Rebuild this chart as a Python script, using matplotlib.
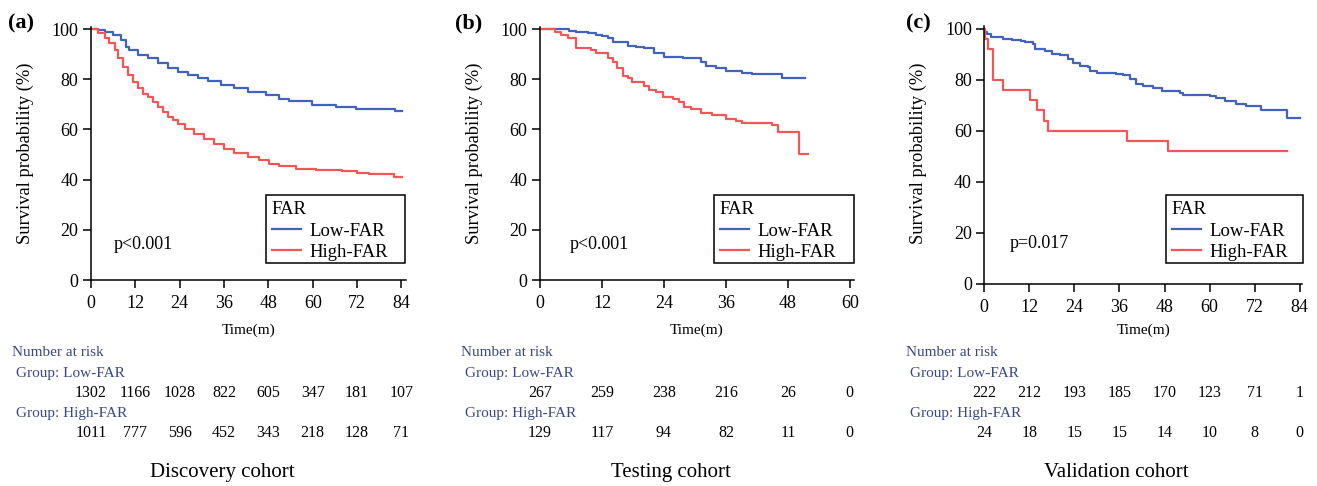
import matplotlib
matplotlib.use("Agg")
import matplotlib.pyplot as plt
from matplotlib.patches import Rectangle
from matplotlib.transforms import blended_transform_factory

plt.rcParams['font.family'] = ['Liberation Serif', 'DejaVu Serif']

W, H = 1317, 486
LOW_COL = '#4163bd'
HIGH_COL = '#f25757'
TXT_COL = '#3b4884'

# ---- Discovery cohort (a) ----
a_low_t = [0, 2.0, 3.7, 5.9, 8.2, 9.5, 10.4, 12.7, 15.4, 18.1, 20.8, 23.5, 26.2, 28.9, 31.6, 35.1, 38.8,
           42.4, 47.3, 50.8, 53.5, 59.9, 66.2, 71.6, 82.3, 84.1]
a_low_s = [100, 99.5, 98.9, 97.6, 95.6, 92.9, 91.6, 89.6, 88.3, 86.3, 84.3, 82.9, 81.6, 80.5, 79.2, 77.6, 76.3,
           74.9, 73.6, 72.3, 71.2, 69.6, 68.9, 68.0, 67.2, 67.2]
a_high_t = [0, 1.9, 3.7, 5.0, 6.4, 7.3, 8.6, 10.0, 11.4, 12.7, 14.1, 15.4, 16.8, 18.1, 19.5, 20.8, 22.2,
            23.5, 25.3, 28.0, 30.7, 33.4, 36.1, 38.8, 42.4, 45.5, 48.2, 50.9, 55.4, 60.8, 68.0, 72.1, 75.2,
            82.1, 84.1]
a_high_s = [100, 98.3, 96.3, 94.3, 91.6, 88.3, 84.9, 81.6, 78.9, 76.3, 74.3, 72.9, 70.9, 68.9, 66.9, 64.9,
            63.6, 62.3, 60.3, 58.3, 56.3, 54.3, 52.0, 50.7, 49.1, 47.9, 46.3, 45.3, 44.3, 43.9, 43.3, 42.7,
            42.1, 41.2, 41.2]
a_risk_t = [0, 12, 24, 36, 48, 60, 72, 84]
a_risk_low = [1302, 1166, 1028, 822, 605, 347, 181, 107]
a_risk_high = [1011, 777, 596, 452, 343, 218, 128, 71]

# ---- Testing cohort (b) ----
b_low_t = [0, 5.7, 7.0, 9.2, 10.8, 12.1, 13.1, 14.1, 17.0, 18.6, 20.2, 22.1, 24.0, 27.6, 31.1, 32.1, 34.0,
           36.0, 39.2, 41.1, 46.9, 51.3]
b_low_s = [100, 99.3, 98.9, 98.3, 97.6, 97.2, 96.5, 94.7, 93.3, 92.9, 92.3, 90.3, 88.9, 88.5, 86.9, 85.3,
           84.5, 83.2, 82.5, 82.0, 80.3, 80.3]
b_high_t = [0, 3.0, 4.1, 5.4, 7.0, 9.9, 10.8, 13.1, 14.1, 15.0, 16.0, 17.0, 17.9, 20.2, 21.2, 22.4, 23.9,
            25.7, 26.9, 27.9, 29.2, 31.1, 33.4, 36.0, 37.9, 39.2, 45.0, 46.0, 50.2, 51.8]
b_high_s = [100, 98.7, 97.6, 96.3, 92.5, 91.6, 90.3, 88.3, 86.7, 84.3, 81.3, 80.5, 78.9, 77.3, 75.6, 74.9,
            72.9, 72.3, 70.9, 68.9, 68.0, 66.7, 65.9, 64.3, 63.3, 62.5, 61.6, 58.9, 50.3, 50.3]
b_risk_t = [0, 12, 24, 36, 48, 60]
b_risk_low = [267, 259, 238, 216, 26, 0]
b_risk_high = [129, 117, 94, 82, 11, 0]

# ---- Validation cohort (c) ----
c_low_t = [0, 0.2, 0.8, 1.9, 5.1, 7.3, 9.9, 10.8, 13.0, 13.5, 16.1, 17.9, 20.1, 22.3, 23.7, 25.5, 27.7,
           28.1, 29.9, 35.2, 37.0, 38.8, 40.5, 42.3, 44.9, 47.2, 52.0, 52.9, 60.0, 61.8, 64.0, 67.1, 69.8,
           73.8, 80.6, 84.0]
c_low_s = [100, 98.7, 97.7, 96.6, 96.1, 95.7, 95.3, 94.8, 93.8, 92.1, 91.4, 90.1, 89.5, 87.9, 86.6, 85.3,
           84.9, 83.4, 82.5, 82.3, 81.7, 80.4, 78.2, 77.5, 76.6, 75.6, 74.9, 73.9, 73.6, 72.7, 71.7, 70.6,
           69.7, 68.1, 64.8, 64.8]
c_high_t = [0, 0.2, 1.1, 2.2, 5.1, 12.2, 14.1, 15.9, 17.0, 38.0, 49.0, 80.6]
c_high_s = [100, 96.0, 92.0, 80.0, 76.0, 72.0, 68.0, 64.0, 60.0, 56.0, 52.0, 52.0]
c_risk_t = [0, 12, 24, 36, 48, 60, 72, 84]
c_risk_low = [222, 212, 193, 185, 170, 123, 71, 1]
c_risk_high = [24, 18, 15, 15, 14, 10, 8, 0]

panels = [
    dict(tag='(a)', title='Discovery cohort', p='p<0.001',
         low=(a_low_t, a_low_s), high=(a_high_t, a_high_s),
         risk=(a_risk_t, a_risk_low, a_risk_high), xmax=85.1, ticks=a_risk_t,
         box=(91, 26.5, 405.5, 280), ymax=101, ptxt=(114, 244), leg=(266, 195, 405, 263),
         tagx=8, ylabx=25, rowx=12),
    dict(tag='(b)', title='Testing cohort', p='p<0.001',
         low=(b_low_t, b_low_s), high=(b_high_t, b_high_s),
         risk=(b_risk_t, b_risk_low, b_risk_high), xmax=60.8, ticks=b_risk_t,
         box=(540, 26.5, 854, 280), ymax=101, ptxt=(570, 244), leg=(714, 195, 854, 263),
         tagx=455, ylabx=474, rowx=461),
    dict(tag='(c)', title='Validation cohort', p='p=0.017',
         low=(c_low_t, c_low_s), high=(c_high_t, c_high_s),
         risk=(c_risk_t, c_risk_low, c_risk_high), xmax=84.6, ticks=c_risk_t,
         box=(984.3, 26, 1302, 284), ymax=101, ptxt=(1010, 243), leg=(1166, 195, 1303, 263),
         tagx=906, ylabx=918, rowx=906),
]

fig = plt.figure(figsize=(W / 100, H / 100), dpi=100)

for pn in panels:
    x0, y0, x1, y1 = pn['box']
    ax = fig.add_axes([x0 / W, 1 - y1 / H, (x1 - x0) / W, (y1 - y0) / H])
    ax.step(pn['low'][0], pn['low'][1], where='post', color=LOW_COL, lw=1.6, label='Low-FAR')
    ax.step(pn['high'][0], pn['high'][1], where='post', color=HIGH_COL, lw=1.6, label='High-FAR')
    ax.set_xlim(0, pn['xmax'])
    ax.set_ylim(0, pn['ymax'])
    ax.set_xticks(pn['ticks'])
    ax.set_yticks([0, 20, 40, 60, 80, 100])
    for s in ['top', 'right']:
        ax.spines[s].set_visible(False)
    for s in ['left', 'bottom']:
        ax.spines[s].set_linewidth(1.1)
    ax.tick_params(labelsize=13, length=6, width=1.1)
    ax.tick_params(axis='x', pad=5)
    ax.tick_params(axis='y', pad=3)

    # x label, placed under the tick labels
    ax.text((x0 + x1) / 2 / W, 1 - 330 / H, 'Time(m)', transform=fig.transFigure,
            fontsize=11, ha='center', va='center')
    fig.text(pn['ylabx'] / W, 1 - 153 / H, 'Survival probability (%)', rotation=90,
             fontsize=13.3, ha='center', va='center')
    fig.text(pn['tagx'] / W, 1 - 23 / H, pn['tag'], fontsize=16, fontweight='bold',
             ha='left', va='center')
    fig.text(pn['ptxt'][0] / W, 1 - pn['ptxt'][1] / H, pn['p'], fontsize=13,
             ha='left', va='center')

    # legend box drawn by hand (survminer leaves extra room on the right)
    lx0, ly0, lx1, ly1 = pn['leg']
    ax.add_patch(Rectangle((lx0 / W, 1 - ly1 / H), (lx1 - lx0) / W, (ly1 - ly0) / H,
                           transform=fig.transFigure, fill=True, facecolor='white',
                           edgecolor='black', lw=1.1, zorder=4, clip_on=False))
    leg = ax.legend(title='FAR', loc='upper left', fontsize=13.5, title_fontsize=13.5,
                    bbox_to_anchor=((lx0 + 2) / W, 1 - (ly0 + 2.5) / H),
                    bbox_transform=fig.transFigure, frameon=False,
                    handlelength=1.55, handletextpad=0.45, borderpad=0.2, labelspacing=0.22,
                    borderaxespad=0)
    leg._legend_box.align = 'left'
    leg.set_zorder(6)

    tr = blended_transform_factory(ax.transData, fig.transFigure)
    rt, rlow, rhigh = pn['risk']
    fig.text(pn['rowx'] / W, 1 - 352 / H, 'Number at risk', fontsize=11, color=TXT_COL, va='center')
    fig.text((pn['rowx'] + 4) / W, 1 - 373 / H, 'Group: Low-FAR', fontsize=11, color=TXT_COL, va='center')
    fig.text((pn['rowx'] + 4) / W, 1 - 413 / H, 'Group: High-FAR', fontsize=11, color=TXT_COL, va='center')
    for t, n1, n2 in zip(rt, rlow, rhigh):
        ax.text(t, 1 - 393 / H, str(n1), transform=tr, fontsize=11.5, ha='center', va='center')
        ax.text(t, 1 - 433 / H, str(n2), transform=tr, fontsize=11.5, ha='center', va='center')
    fig.text((x0 + x1) / 2 / W - 0.02, 1 - 472 / H, pn['title'], fontsize=15, ha='center', va='center')

fig.savefig('out.png', dpi=100)
